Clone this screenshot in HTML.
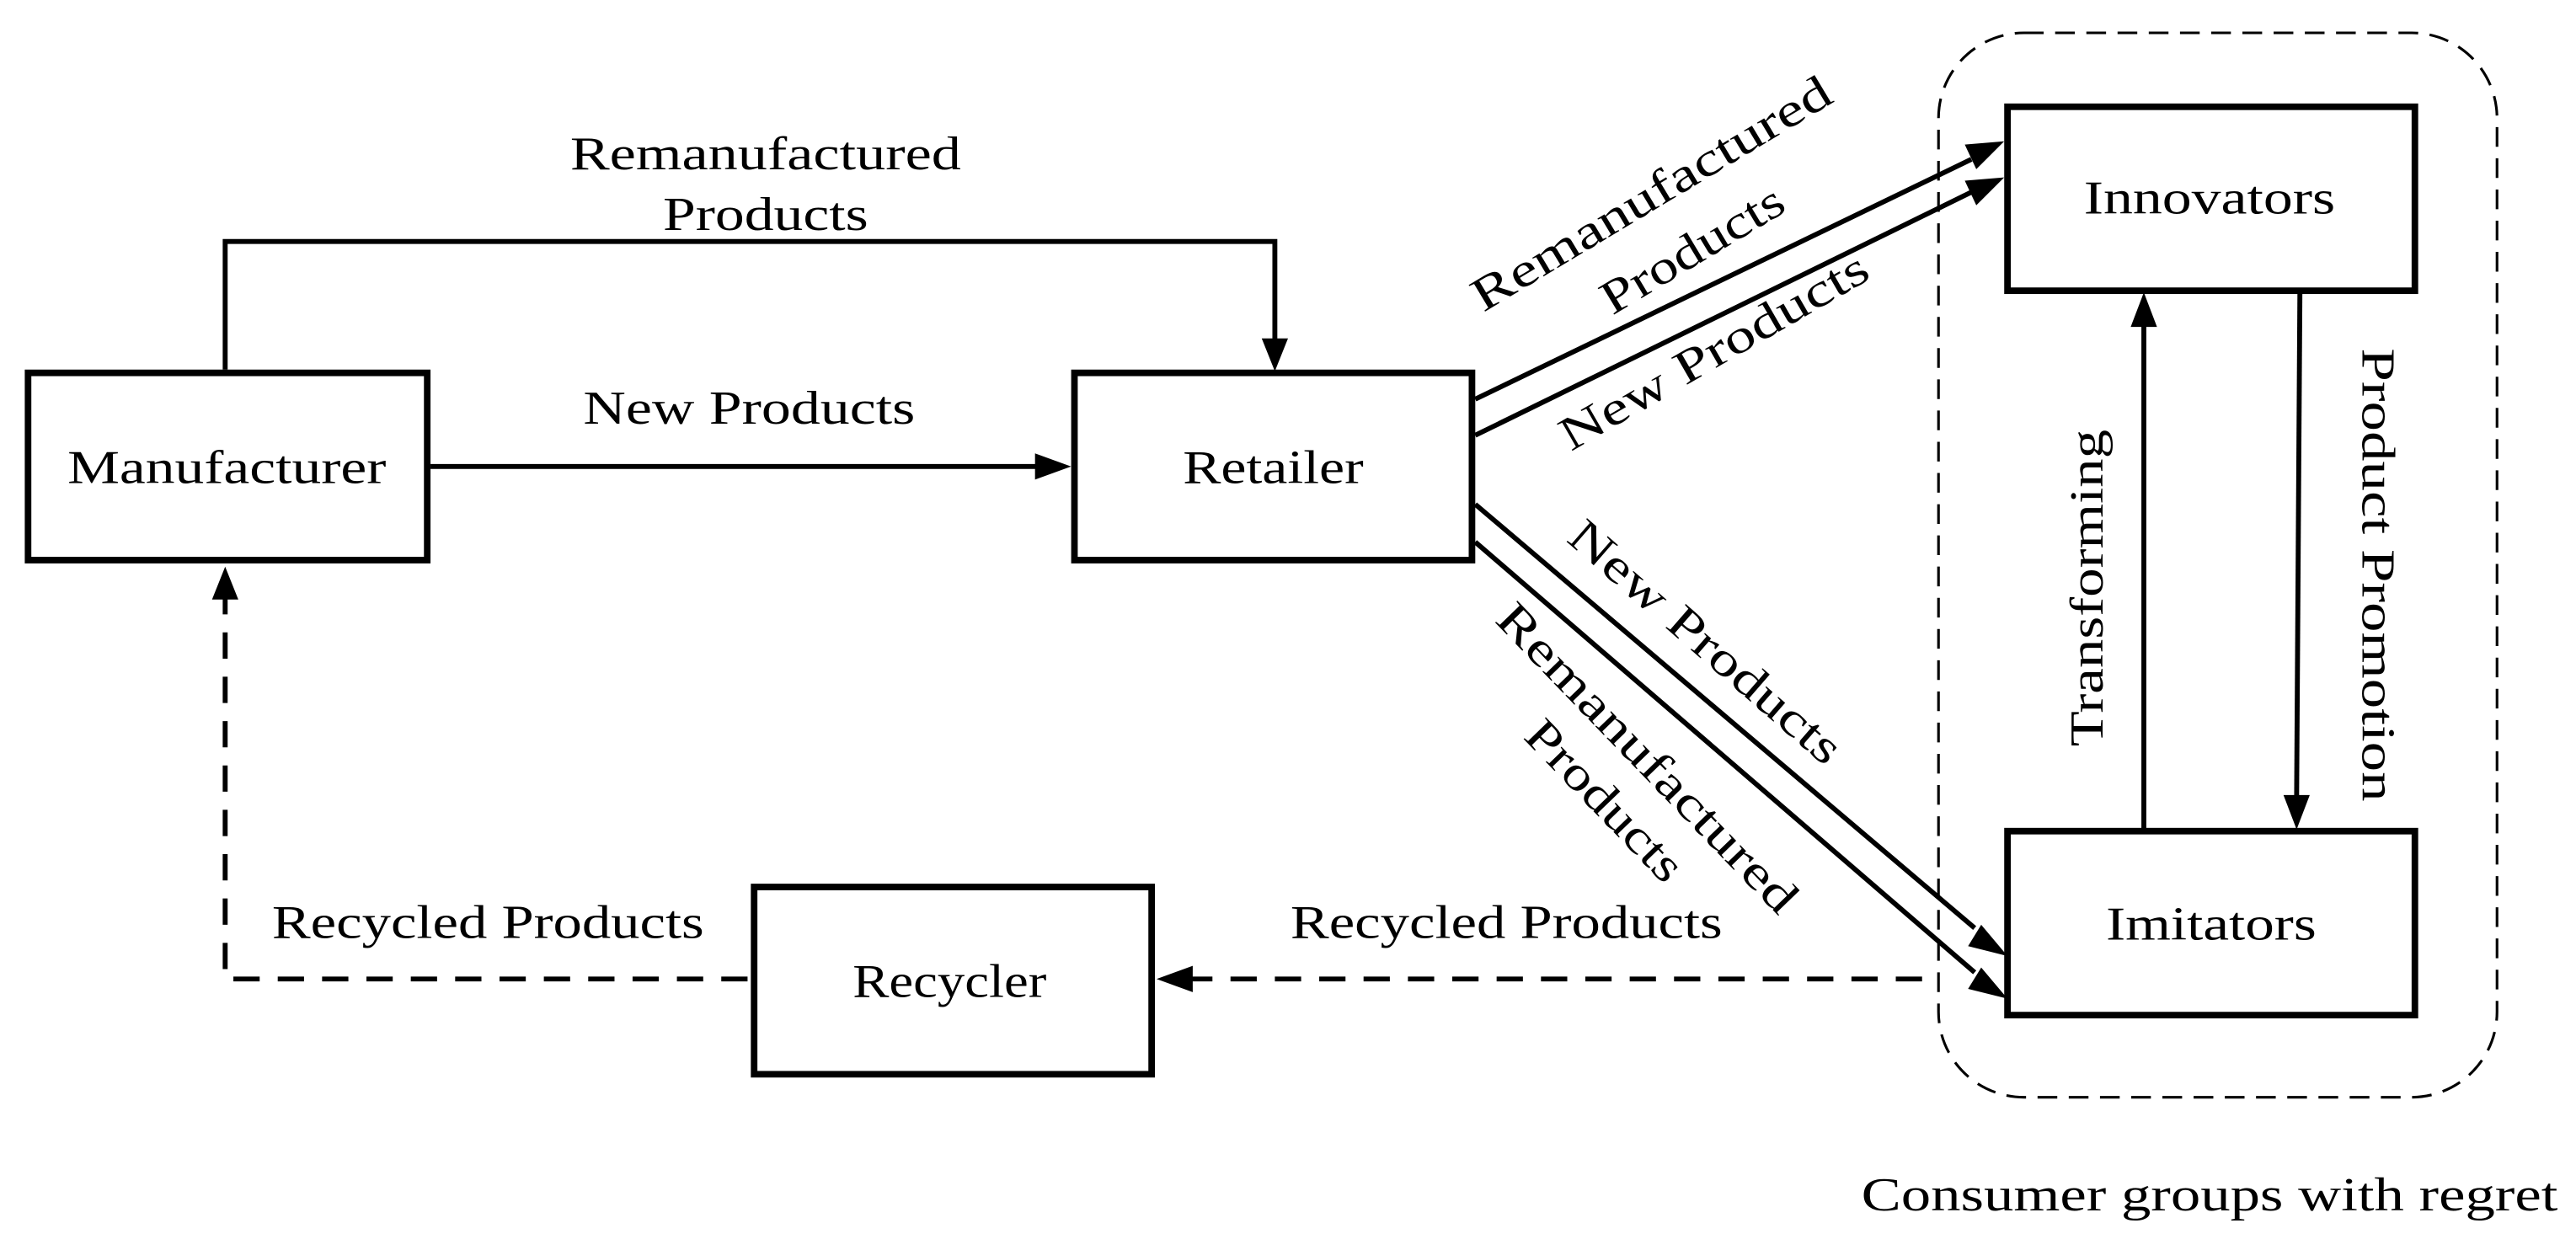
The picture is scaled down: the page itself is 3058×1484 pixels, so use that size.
<!DOCTYPE html>
<html><head><meta charset="utf-8"><style>
html,body{margin:0;padding:0;background:#fff;}
svg{display:block;}
text{font-family:"Liberation Serif",serif;font-size:29px;fill:#000;}
</style></head><body>
<svg width="3058" height="1484" viewBox="0 0 1568 761" xmlns="http://www.w3.org/2000/svg">
<rect x="1180" y="20" width="340" height="648" rx="52" fill="none" stroke="#000" stroke-width="1.6" stroke-dasharray="12,7"/>
<g fill="none" stroke="#000" stroke-width="4">
<rect x="17" y="227" width="243" height="114"/>
<rect x="654" y="227" width="242" height="114"/>
<rect x="459" y="540" width="242" height="114"/>
<rect x="1222" y="65" width="248" height="112"/>
<rect x="1222" y="506" width="248" height="112"/>
</g>
<g fill="none" stroke="#000" stroke-width="3">
<polyline points="137,225 137,147 776,147 776,208"/>
<line x1="262" y1="284" x2="632" y2="284"/>
<line x1="898" y1="243" x2="1200" y2="97"/>
<line x1="898" y1="265" x2="1200" y2="117"/>
<line x1="898" y1="307" x2="1202" y2="565"/>
<line x1="898" y1="330" x2="1202" y2="592"/>
<line x1="1305" y1="505" x2="1305" y2="198"/>
<line x1="1400" y1="178" x2="1398" y2="485"/>
</g>
<g fill="none" stroke="#000" stroke-width="3" stroke-dasharray="16,11">
<polyline points="455,596 137,596 137,363"/>
<line x1="1170" y1="596" x2="725" y2="596"/>
</g>
<g fill="#000">
<polygon points="776,226 768,206 784,206"/>
<polygon points="652,284 630,276 630,292"/>
<polygon points="137,345 129,365 145,365"/>
<polygon points="704,596 726,588 726,604"/>
<polygon points="1220,86 1196,88 1203,103"/>
<polygon points="1220,108 1196,110 1203,125"/>
<polygon points="1222,582 1206,563 1198,576"/>
<polygon points="1222,608 1206,589 1198,602"/>
<polygon points="1305,178 1297,199 1313,199"/>
<polygon points="1398,505 1390,484 1406,484"/>
</g>
<g text-anchor="middle">
<text x="138" y="294" textLength="194" lengthAdjust="spacingAndGlyphs">Manufacturer</text>
<text x="775" y="294" textLength="110" lengthAdjust="spacingAndGlyphs">Retailer</text>
<text x="578" y="607" textLength="118" lengthAdjust="spacingAndGlyphs">Recycler</text>
<text x="1345" y="130" textLength="153" lengthAdjust="spacingAndGlyphs">Innovators</text>
<text x="1346" y="572" textLength="128" lengthAdjust="spacingAndGlyphs">Imitators</text>
<text x="466" y="103" textLength="238" lengthAdjust="spacingAndGlyphs">Remanufactured</text>
<text x="466" y="140" textLength="125" lengthAdjust="spacingAndGlyphs">Products</text>
<text x="456" y="258" textLength="202" lengthAdjust="spacingAndGlyphs">New Products</text>
<text x="297" y="571" textLength="263" lengthAdjust="spacingAndGlyphs">Recycled Products</text>
<text x="917" y="571" textLength="263" lengthAdjust="spacingAndGlyphs">Recycled Products</text>
<text x="1345" y="737" textLength="424" lengthAdjust="spacingAndGlyphs">Consumer groups with regret</text>
<text transform="translate(1280,358) rotate(-90)" textLength="193" lengthAdjust="spacingAndGlyphs">Transforming</text>
<text transform="translate(1438,350) rotate(90)" textLength="276" lengthAdjust="spacingAndGlyphs">Product Promotion</text>
<text transform="translate(1010,126) rotate(-31)" textLength="250" lengthAdjust="spacingAndGlyphs">Remanufactured</text>
<text transform="translate(1035,160) rotate(-31)" textLength="125" lengthAdjust="spacingAndGlyphs">Products</text>
<text transform="translate(1048,222) rotate(-30)" textLength="212" lengthAdjust="spacingAndGlyphs">New Products</text>
<text transform="translate(1032,398) rotate(41)" textLength="210" lengthAdjust="spacingAndGlyphs">New Products</text>
<text transform="translate(996,468) rotate(46)" textLength="250" lengthAdjust="spacingAndGlyphs">Remanufactured</text>
<text transform="translate(970,494) rotate(46)" textLength="125" lengthAdjust="spacingAndGlyphs">Products</text>
</g>
</svg>
</body></html>
